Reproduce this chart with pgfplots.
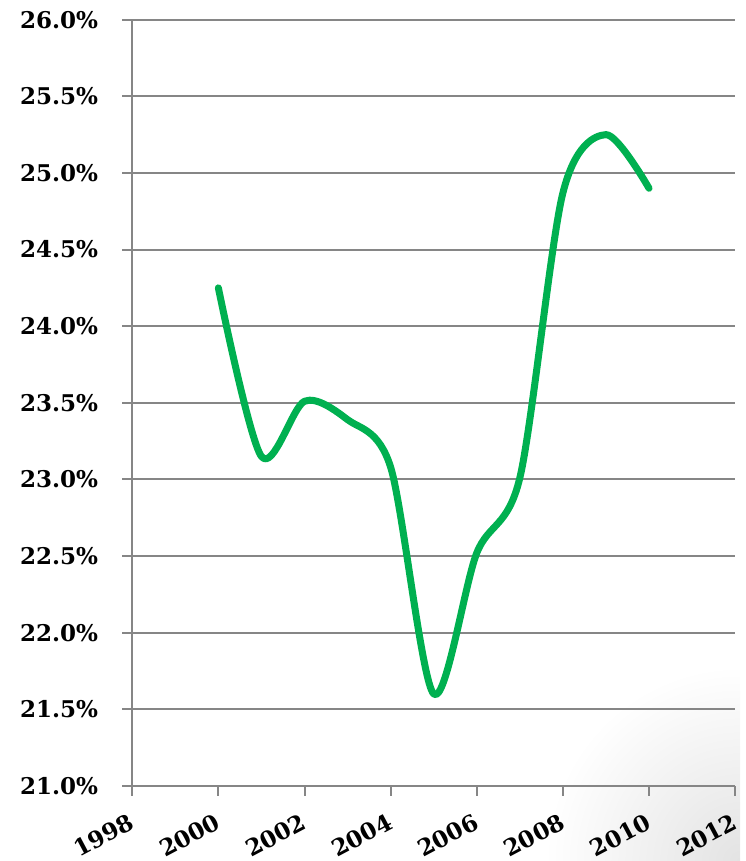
\documentclass[border={19pt 0pt 5pt 10pt}]{standalone}
\usepackage{pgfplots}
\pgfplotsset{compat=1.18}
\usepackage{fontspec}
\setmainfont{DejaVu Serif}
\definecolor{linegreen}{RGB}{0,176,80}
\definecolor{gridgray}{RGB}{134,134,134}
\begin{document}
\begin{tikzpicture}
\begin{scope}
  \clip (300pt,-75pt) rectangle (607pt,225pt);
  \shade[inner color=black!11, outer color=white] (607pt,-75pt) circle (195pt);
\end{scope}
\begin{axis}[
  at={(0pt,0pt)}, anchor=south west,
  width=602pt, height=765pt, scale only axis,
  xmin=1998, xmax=2012, ymin=21, ymax=26,
  xtick={1998,2000,2002,2004,2006,2008,2010,2012},
  ytick={21,21.5,22,22.5,23,23.5,24,24.5,25,25.5,26},
  ymajorgrids, grid style={gridgray, line width=2pt},
  axis x line*=bottom, axis y line*=left,
  axis line style={gridgray, line width=2pt, -},
  tick style={gridgray, line width=2pt},
  major tick length=10pt,
  tick align=outside,
  tick label style={font=\bfseries\fontsize{23}{26}\selectfont},
  /pgf/number format/assume math mode=true,
  /pgf/number format/1000 sep={},
  yticklabel={\pgfmathprintnumber[fixed,fixed zerofill,precision=1]{\tick}\%},
  yticklabel style={inner sep=1pt, xshift=-23pt},
  xticklabel style={xshift=-4pt, yshift=-15pt, rotate=28, anchor=north east, inner sep=1pt},
  clip=false,
]
\addplot[linegreen, line width=7pt, smooth, tension=0.5, line cap=round, line join=round]
  coordinates {
  (2000,24.25) (2001,23.15) (2002,23.51) (2003,23.39) (2004,23.08)
  (2005,21.60) (2006,22.52) (2007,23.01) (2008,24.87) (2009,25.25) (2010,24.90)
  };
\end{axis}
\end{tikzpicture}
\end{document}
